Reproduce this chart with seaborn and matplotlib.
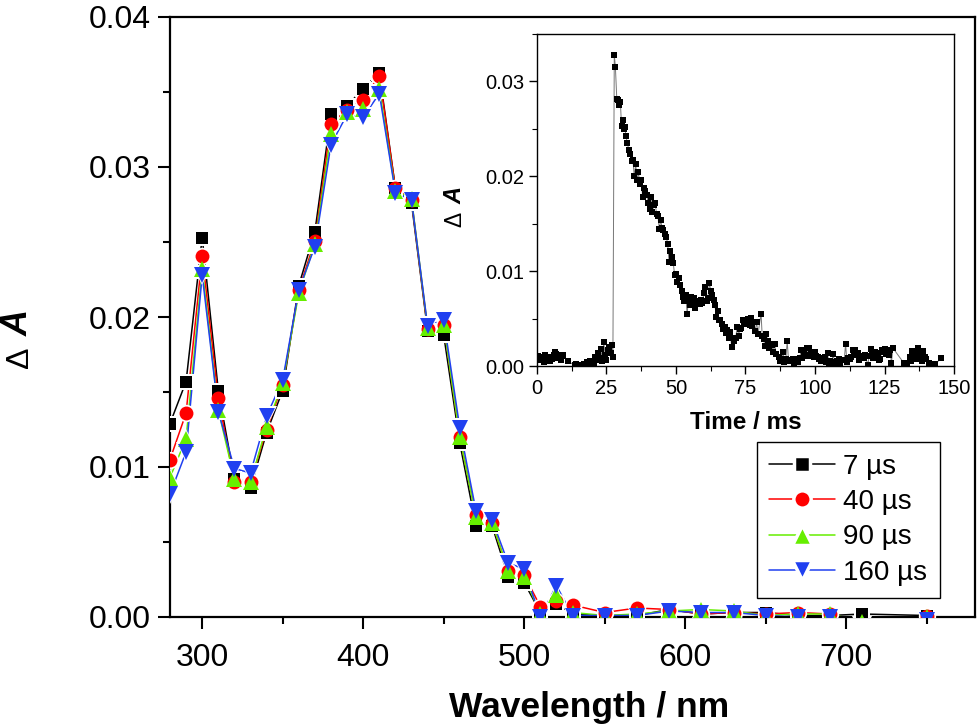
import numpy as np
import pandas as pd
import matplotlib
matplotlib.use("Agg")
import matplotlib.pyplot as plt
from matplotlib.lines import Line2D
from matplotlib.ticker import MultipleLocator, FormatStrFormatter
import seaborn as sns

# spectra at four delays
wavelength = [280, 290, 300, 310, 320, 330, 340, 350, 360, 370, 380, 390, 400, 410, 420, 430, 440, 450,
              460, 470, 480, 490, 500, 510, 520, 530, 550, 570, 590, 610, 630, 650, 670, 690, 710, 750]
da_7us = [.0129, .0157, .0253, .0151, .0092, .0086, .0123, .0151, .0221, .0257, .0335, .0341, .0352, .0363, .0286, .0276, .0191, .0188,
          .0116, .0061, .0061, .0027, .0023, .0003, .0009, .0002, .0001, .0001, .0005, .0002, .0003, .0003, .0001, .0001, .0002, .0001]
da_40us = [.0105, .0136, .0241, .0146, .0090, .0090, .0125, .0155, .0218, .0251, .0329, .0338, .0345, .0361, .0286, .0278, .0192, .0195,
           .0120, .0068, .0063, .0031, .0028, .0007, .0011, .0008, .0003, .0006, .0005, .0002, .0003, .0002, .0003, .0002, -.0006, .0001]
da_90us = [.0093, .0119, .0232, .0138, .0092, .0090, .0127, .0156, .0216, .0249, .0322, .0337, .0339, .0352, .0284, .0279, .0193, .0195,
           .0120, .0067, .0063, .0031, .0027, .0002, .0015, .0003, .0001, .0002, .0004, .0005, .0004, .0001, .0002, .0002, -.0003, .0000]
da_160us = [.0082, .0110, .0228, .0137, .0099, .0096, .0134, .0158, .0218, .0247, .0315, .0335, .0333, .0349, .0283, .0278, .0194, .0198,
            .0126, .0071, .0065, .0036, .0032, .0000, .0021, .0001, .0001, .0001, .0004, .0003, .0003, .0001, .0000, .0000, -.0006, -.0002]

series_names = ["7 µs", "40 µs", "90 µs", "160 µs"]
series_values = [da_7us, da_40us, da_90us, da_160us]
series_colors = ["#000000", "#ff0000", "#66ee00", "#2040f0"]
series_markers = ["s", "o", "^", "v"]
series_sizes = [8.6, 10, 11.5, 11.5]

# kinetic trace for the inset (milli-absorbance units as read)
trace_time = [0.5, 1, 1.5, 2, 2.5, 3, 3.5, 4, 4.5, 5, 5.5, 6, 6.5, 7, 7.5, 8, 8.5, 9, 9.5,
              11, 13.5, 14, 15, 16, 17, 18, 18.5, 19, 19.5,
              20, 20.5, 21, 21.5, 22, 22.5, 23, 23.5, 24, 24.5, 25, 25.5, 26, 26.5, 27, 27.3,
              27.8, 28.2, 28.7, 29.2, 29.6, 30, 30.4, 30.8, 31.2, 31.6, 32, 32.5, 33, 33.5, 34, 34.5,
              35, 35.5, 36, 36.5, 37, 37.5, 38, 38.5, 39, 39.5, 40, 40.5, 41, 41.5, 42, 42.5, 43, 43.5, 44, 44.5,
              45, 45.5, 46, 46.5, 47, 47.5, 48, 48.5, 49, 49.5, 50, 50.5, 51, 51.5, 52, 52.5, 53, 53.5, 54, 54.5,
              55, 55.5, 56, 56.5, 57, 57.5, 58, 58.5, 59, 59.5, 60, 60.5, 61, 61.5, 62, 62.5, 63, 63.5, 64, 64.5,
              65, 65.5, 66, 66.5, 67, 67.5, 68, 68.5, 69, 69.5, 70, 70.5, 71, 71.5, 72, 72.5, 73, 73.5, 74, 74.5,
              75, 75.5, 76, 76.5, 77, 77.5, 78, 78.5, 79, 79.5, 80.6, 81, 81.5, 82, 82.5, 83, 83.5, 84, 84.5,
              85, 85.5, 86, 87, 87.5, 88, 88.5, 89, 89.5, 90, 90.5, 91, 92, 92.5, 93, 93.5, 94, 94.5,
              95, 95.5, 96, 96.5, 97, 97.5, 98, 98.5, 99, 99.5, 100, 100.5, 101, 101.5, 102, 102.5, 103, 103.5, 104, 104.5,
              105, 105.5, 106, 106.5, 107, 107.5, 108, 108.5, 109, 110, 110.5, 111, 111.5, 112, 112.5, 113, 113.5, 114, 114.5,
              115, 115.5, 116, 116.5, 117, 117.5, 118, 119, 119.5, 120, 120.5, 121, 121.5, 122, 122.5, 123, 123.5, 124, 124.5,
              125, 125.5, 126, 126.5, 127, 127.5, 128, 132, 133, 134, 134.5,
              135, 135.5, 136, 136.5, 137, 137.5, 138, 138.5, 139, 139.5, 140, 141, 142, 143, 145.5]
trace_mda = [1.1, 0.6, 1.0, 0.9, 0.4, 1.2, 1.0, 0.6, 0.5, 0.9, 0.7, 1.2, 1.5, 1.3, 0.8, 1.2, 0.6, 1.1, 1.2,
             0.5, 0.1, 0.2, 0.1, 0.1, 0.2, 0.4, 0.2, 0.5, 0.3,
             0.5, 0.2, 1.0, 0.6, 1.4, 0.8, 1.8, 0.5, 2.5, 1.2, 0.6, 1.7, 2.0, 1.4, 2.2, 0.9,
             32.8, 31.5, 28.2, 28.0, 27.5, 27.8, 25.3, 25.9, 25.0, 25.2, 24.2, 23.5, 22.8, 22.4, 21.6, 21.7,
             20.0, 21.3, 19.6, 20.4, 19.2, 19.6, 17.8, 18.8, 18.5, 18.0, 17.2, 16.6, 17.8, 16.2, 17.0, 17.2, 16.0, 15.8, 14.4, 15.4,
             14.5, 14.3, 13.9, 13.6, 12.9, 11.0, 12.1, 11.5, 10.9, 9.6, 9.7, 8.9, 9.3, 8.5, 7.9, 7.3, 6.9, 7.5, 5.5, 7.0,
             6.4, 7.3, 6.5, 7.2, 6.1, 6.7, 6.9, 6.5, 7.0, 6.6, 7.7, 8.3, 6.9, 7.2, 8.8, 7.9, 7.5, 7.0, 6.4, 5.2,
             5.8, 4.9, 4.9, 4.4, 3.9, 4.1, 3.5, 3.8, 3.0, 3.6, 2.0, 2.9, 2.6, 3.0, 4.1, 3.2, 3.9, 4.0, 4.8, 4.4,
             4.9, 4.6, 5.0, 4.3, 5.1, 4.2, 4.6, 3.7, 4.6, 3.4, 5.5, 3.2, 2.8, 2.1, 3.4, 2.6, 1.9, 2.3, 2.2,
             1.5, 2.3, 1.3, 1.0, 0.5, 0.7, 1.5, 0.4, 0.7, 2.6, 0.5, 0.6, 0.7, 0.3, 0.7, 0.6, 0.4, 0.8,
             1.7, 0.8, 1.5, 1.2, 1.9, 1.1, 1.9, 1.4, 1.5, 0.9, 1.5, 1.1, 0.9, 0.7, 0.5, 0.8, 0.6, 0.9, 0.4, 1.4,
             0.3, 0.5, 0.2, 1.3, 0.4, 0.1, 0.5, 0.7, 0.3, 0.6, 0.6, 2.3, 0.4, 0.8, 0.7, 1.0, 1.7, 1.3, 1.7,
             1.2, 1.4, 0.6, 1.1, 0.9, 0.8, 1.2, 0.1, 1.1, 1.8, 1.4, 0.8, 1.5, 1.1, 1.4, 0.6, 0.7, 1.7, 1.5,
             1.8, 1.3, 1.5, 1.2, 1.7, 0.3, 1.9, 0.3, 0.3, 1.0, 0.5,
             1.6, 0.7, 1.2, 1.5, 1.9, 0.7, 1.3, 0.5, 1.6, 1.0, 0.7, 0.3, 0.2, 0.2, 0.8]

sns.set_style("ticks")
plt.rcParams["font.family"] = ["Liberation Sans", "DejaVu Sans"]
plt.rcParams.update({"text.color": "black", "axes.labelcolor": "black", "xtick.color": "black",
                     "ytick.color": "black", "axes.edgecolor": "black"})
W, H = 979, 727
fig = plt.figure(figsize=(W / 100, H / 100), dpi=100)


def box(l, t, r, b):
    return [l / W, (H - b) / H, (r - l) / W, (b - t) / H]


ax = fig.add_axes(box(170, 17, 975, 617))

# lines first, then white halos (the Origin gaps), then the symbols
for name, vals, col, mk, ms in zip(series_names, series_values, series_colors, series_markers, series_sizes):
    df = pd.DataFrame({"wl": wavelength, "da": vals})
    sns.lineplot(data=df, x="wl", y="da", color=col, lw=1.1, estimator=None, sort=False, ax=ax, zorder=2)
    sns.lineplot(data=df, x="wl", y="da", color="white", lw=0, marker=mk, ms=ms + 2.5, mec="white", mew=0,
                 estimator=None, sort=False, ax=ax, zorder=3)
for i, (name, vals, col, mk, ms) in enumerate(zip(series_names, series_values, series_colors, series_markers, series_sizes)):
    df = pd.DataFrame({"wl": wavelength, "da": vals})
    sns.lineplot(data=df, x="wl", y="da", color=col, lw=0, marker=mk, ms=ms, mew=0,
                 estimator=None, sort=False, ax=ax, zorder=4 + i)

ax.set_xlim(280, 780)
ax.set_ylim(0, 0.04)
ax.xaxis.set_major_locator(MultipleLocator(100))
ax.xaxis.set_minor_locator(MultipleLocator(50))
ax.yaxis.set_major_locator(MultipleLocator(0.01))
ax.yaxis.set_minor_locator(MultipleLocator(0.005))
ax.yaxis.set_major_formatter(FormatStrFormatter("%.2f"))
ax.tick_params(which="major", direction="out", length=8.6, width=1.5, labelsize=23)
ax.tick_params(which="minor", direction="out", length=5, width=1.5)
ax.tick_params(axis="x", which="major", pad=10)
ax.tick_params(axis="y", which="major", pad=5)
for s in ax.spines.values():
    s.set_visible(True)
    s.set_linewidth(1.6)
ax.set_xlabel("Wavelength / nm", fontsize=25.5, fontweight="bold", labelpad=13, x=(589.5 - 170) / 805)
ax.set_ylabel("")

fig.text(20 / W, 1 - 357 / H, "Δ", rotation=90, fontsize=23, ha="center", va="center")
fig.text(18 / W, 1 - 323 / H, "A", rotation=90, fontsize=26, fontweight="bold", style="italic", ha="center", va="center")

handles = [Line2D([], [], color=c, lw=1.1, marker=m, ms=s + 2.5, mfc=c, mec="white", mew=2.5)
           for c, m, s in zip(series_colors, series_markers, series_sizes)]
leg = ax.legend(handles, series_names, loc="lower left", bbox_to_anchor=((757 - 170) / 805, 19 / 600),
                frameon=True, fancybox=False, framealpha=1, edgecolor="black", fontsize=20,
                handlelength=2.35, labelspacing=0.33, handletextpad=0.3, borderpad=0.45, borderaxespad=0)
leg.get_frame().set_linewidth(1.0)

# inset
inset = fig.add_axes(box(537, 34, 954, 366))
trace = pd.DataFrame({"t": trace_time, "da": np.array(trace_mda) / 1000})
sns.lineplot(data=trace, x="t", y="da", color="#777777", lw=0.7, estimator=None, sort=False, ax=inset, zorder=2)
sns.scatterplot(data=trace, x="t", y="da", color="black", marker="s", s=22, linewidth=0, ax=inset, zorder=3)
inset.set_xlim(0, 150)
inset.set_ylim(0, 0.035)
inset.xaxis.set_major_locator(MultipleLocator(25))
inset.xaxis.set_minor_locator(MultipleLocator(12.5))
inset.yaxis.set_major_locator(MultipleLocator(0.01))
inset.yaxis.set_minor_locator(MultipleLocator(0.005))
inset.yaxis.set_major_formatter(FormatStrFormatter("%.2f"))
inset.tick_params(which="major", direction="out", length=6, width=1, labelsize=14.5, pad=3)
inset.tick_params(which="minor", direction="out", length=3.5, width=0.8)
for s in inset.spines.values():
    s.set_visible(True)
    s.set_linewidth(1.0)
inset.set_xlabel("Time / ms", fontsize=17.5, fontweight="bold", labelpad=10)
inset.set_ylabel("")
fig.text(455 / W, 1 - 219 / H, "Δ", rotation=90, fontsize=16.5, ha="center", va="center")
fig.text(455 / W, 1 - 195 / H, "A", rotation=90, fontsize=17, fontweight="bold", style="italic", ha="center", va="center")

fig.savefig("out.png", dpi=100)
